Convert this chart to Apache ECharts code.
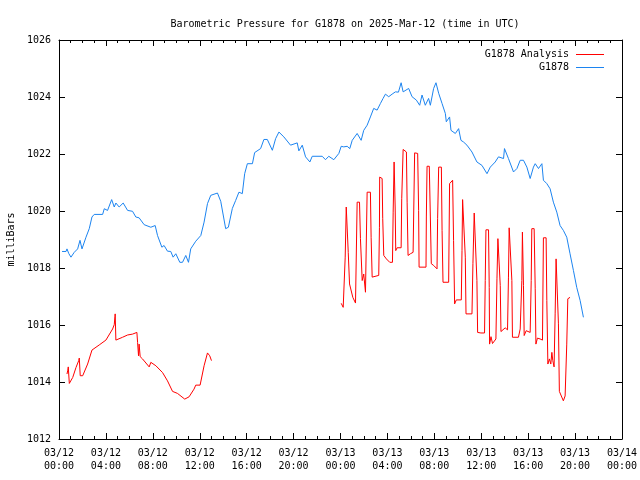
<!DOCTYPE html>
<html>
<head>
<meta charset="utf-8">
<script src="https://cdn.jsdelivr.net/npm/echarts@6/dist/echarts.min.js"></script>
<style>html,body{margin:0;padding:0;background:#fff;}#c{width:640px;height:480px;}</style>
</head>
<body>
<div id="c"></div>
<script>
// Hours since 2025-03-12 00:00 UTC, pressure in millibars
const titleText = 'Barometric Pressure for G1878 on 2025-Mar-12 (time in UTC)';
const seriesNames = ['G1878 Analysis', 'G1878'];
const yTicks = [1012, 1014, 1016, 1018, 1020, 1022, 1024, 1026];
const xTickHours = [0, 4, 8, 12, 16, 20, 24, 28, 32, 36, 40, 44, 48];

const stationReadings = [
[0.26,1018.58],[0.60,1018.58],[0.68,1018.67],[0.83,1018.51],[1.02,1018.38],[1.30,1018.55],[1.59,1018.67],[1.79,1018.97],[1.96,1018.67],[2.30,1019.08],[2.58,1019.38],[2.81,1019.79],[3.00,1019.88],[3.72,1019.88],[3.86,1020.08],[4.14,1020.02],[4.49,1020.40],[4.71,1020.14],[4.85,1020.28],[5.13,1020.14],[5.47,1020.28],[5.85,1020.02],[6.27,1019.99],[6.55,1019.79],[6.83,1019.76],[7.26,1019.52],[7.83,1019.43],[8.20,1019.49],[8.40,1019.14],[8.77,1018.73],[8.96,1018.79],[9.25,1018.59],[9.53,1018.58],[9.73,1018.38],[9.96,1018.50],[10.30,1018.20],[10.53,1018.20],[10.81,1018.44],[11.04,1018.20],[11.23,1018.67],[11.66,1018.94],[12.09,1019.14],[12.37,1019.61],[12.66,1020.26],[12.94,1020.55],[13.51,1020.63],[13.79,1020.34],[14.21,1019.38],[14.44,1019.43],[14.78,1020.09],[15.06,1020.37],[15.34,1020.66],[15.63,1020.61],[15.83,1021.31],[16.06,1021.66],[16.49,1021.66],[16.68,1022.05],[17.19,1022.19],[17.47,1022.51],[17.76,1022.51],[18.19,1022.13],[18.47,1022.54],[18.75,1022.77],[19.17,1022.60],[19.74,1022.31],[20.31,1022.39],[20.45,1022.11],[20.74,1022.31],[21.02,1021.90],[21.39,1021.72],[21.59,1021.92],[22.44,1021.92],[22.72,1021.80],[23.00,1021.92],[23.43,1021.80],[23.86,1022.02],[24.06,1022.27],[24.28,1022.25],[24.57,1022.27],[24.79,1022.19],[25.00,1022.48],[25.42,1022.72],[25.76,1022.48],[25.98,1022.83],[26.27,1023.01],[26.55,1023.30],[26.83,1023.60],[27.12,1023.54],[27.40,1023.77],[27.63,1023.95],[27.83,1024.10],[28.11,1024.01],[28.40,1024.10],[28.68,1024.18],[28.94,1024.17],[29.17,1024.50],[29.34,1024.18],[29.81,1024.30],[30.10,1024.01],[30.47,1023.89],[30.75,1023.71],[30.95,1024.07],[31.23,1023.71],[31.51,1023.95],[31.66,1023.71],[31.94,1024.30],[32.14,1024.50],[32.37,1024.13],[32.66,1023.77],[32.94,1023.42],[33.02,1023.13],[33.30,1023.30],[33.42,1022.83],[33.79,1022.72],[34.07,1022.89],[34.27,1022.48],[34.49,1022.42],[34.78,1022.31],[35.21,1022.07],[35.63,1021.72],[36.06,1021.60],[36.49,1021.31],[36.77,1021.54],[37.19,1021.72],[37.47,1021.90],[37.90,1021.84],[37.98,1022.19],[38.32,1021.84],[38.75,1021.37],[39.04,1021.49],[39.32,1021.78],[39.60,1021.78],[39.89,1021.54],[40.17,1021.14],[40.45,1021.54],[40.60,1021.66],[40.88,1021.49],[41.17,1021.66],[41.30,1021.08],[41.59,1020.96],[41.87,1020.78],[42.15,1020.31],[42.44,1019.96],[42.72,1019.49],[43.00,1019.32],[43.29,1019.08],[43.57,1018.50],[43.86,1017.91],[44.14,1017.32],[44.43,1016.86],[44.71,1016.27]
];

const analysisReadings = [
[0.68,1014.28],[0.74,1014.39],[0.79,1014.53],[0.88,1013.95],[1.17,1014.16],[1.45,1014.51],[1.68,1014.75],[1.73,1014.84],[1.81,1014.22],[2.02,1014.22],[2.44,1014.63],[2.81,1015.12],[3.43,1015.30],[4.00,1015.47],[4.14,1015.48],[4.57,1015.86],[4.71,1016.01],[4.77,1016.29],[4.79,1016.39],[4.85,1015.47],[5.42,1015.57],[5.85,1015.65],[6.27,1015.68],[6.64,1015.74],[6.70,1015.39],[6.78,1014.92],[6.83,1015.33],[6.92,1014.89],[7.12,1014.81],[7.69,1014.53],[7.83,1014.69],[8.26,1014.57],[8.83,1014.33],[8.96,1014.28],[9.25,1014.04],[9.68,1013.67],[10.10,1013.60],[10.72,1013.40],[11.09,1013.48],[11.51,1013.75],[11.66,1013.89],[12.03,1013.89],[12.37,1014.57],[12.66,1015.02],[12.85,1014.92],[13.00,1014.75],
[18.5,null],
[24.06,1016.76],[24.20,1016.74],[24.23,1016.62],[24.37,1016.62],[24.40,1018.38],[24.49,1020.14],[24.62,1020.14],[24.66,1018.55],[24.77,1017.44],[24.94,1017.44],[25.05,1016.97],[25.28,1016.77],[25.42,1020.31],[25.62,1020.31],[25.70,1019.03],[25.85,1017.56],[25.98,1017.79],[26.13,1017.15],[26.27,1020.66],[26.55,1020.66],[26.61,1019.08],[26.70,1017.68],[27.26,1017.74],[27.32,1019.43],[27.34,1021.19],[27.55,1021.14],[27.60,1019.73],[27.69,1018.44],[27.91,1018.32],[28.03,1018.38],[28.20,1018.20],[28.43,1018.20],[28.49,1019.96],[28.57,1021.72],[28.66,1020.14],[28.71,1018.61],[28.83,1018.71],[29.17,1018.71],[29.22,1020.43],[29.34,1022.16],[29.62,1022.07],[29.68,1020.31],[29.76,1018.44],[29.96,1018.50],[30.19,1018.55],[30.32,1022.04],[30.58,1022.02],[30.66,1020.02],[30.70,1018.03],[31.29,1018.03],[31.32,1019.79],[31.38,1021.57],[31.57,1021.57],[31.66,1019.79],[31.74,1018.15],[31.94,1018.09],[32.23,1017.97],[32.28,1019.73],[32.37,1021.54],[32.60,1021.54],[32.66,1019.32],[32.74,1017.50],[33.22,1017.50],[33.30,1020.96],[33.56,1021.08],[33.64,1018.97],[33.73,1016.74],[33.87,1016.88],[34.30,1016.88],[34.36,1018.61],[34.41,1020.40],[34.58,1020.40],[34.64,1018.38],[34.70,1016.39],[35.21,1016.39],[35.29,1018.15],[35.40,1019.93],[35.57,1019.93],[35.63,1017.56],[35.69,1015.74],[35.86,1015.78],[35.97,1015.72],[36.28,1015.72],[36.34,1017.56],[36.40,1019.34],[36.62,1019.34],[36.68,1017.32],[36.71,1015.33],[36.83,1015.59],[36.96,1015.35],[37.13,1015.35],[37.25,1015.51],[37.34,1017.62],[37.42,1019.03],[37.56,1018.97],[37.62,1017.38],[37.68,1015.77],[37.85,1015.83],[38.04,1015.90],[38.24,1015.83],[38.32,1017.68],[38.38,1019.41],[38.55,1019.41],[38.61,1017.56],[38.66,1015.57],[39.17,1015.57],[39.32,1015.86],[39.46,1017.56],[39.51,1019.26],[39.60,1017.38],[39.66,1015.63],[39.83,1015.80],[40.17,1015.74],[40.26,1017.56],[40.31,1019.38],[40.51,1019.38],[40.60,1017.27],[40.66,1015.33],[40.79,1015.54],[41.02,1015.51],[41.22,1015.47],[41.30,1019.06],[41.53,1019.06],[41.59,1016.86],[41.68,1014.63],[41.81,1014.81],[41.93,1014.63],[42.02,1015.04],[42.10,1014.75],[42.21,1014.53],[42.30,1016.39],[42.38,1018.32],[42.53,1018.38],[42.58,1016.04],[42.66,1013.67],[42.81,1013.63],[43.00,1013.34],[43.15,1013.51],[43.23,1013.57],[43.29,1015.33],[43.38,1016.92],[43.57,1016.97]
];

const FONT = 'DejaVu Sans Mono';

function fmtX(h) {
  const day = 12 + Math.floor(h / 24);
  const hr = Math.round(h % 24);
  return '03/' + day + '\n' + (hr < 10 ? '0' + hr : hr) + ':00';
}

const chart = echarts.init(document.getElementById('c'), null, {renderer: 'canvas'});

const axisLineStyle = {color: '#000', width: 1};
function xAxisBase(pos, showLabel) {
  return {
    type: 'value', position: pos, min: xTickHours[0], max: xTickHours[xTickHours.length - 1], interval: 4,
    axisLine: {show: true, onZero: false, lineStyle: axisLineStyle},
    axisTick: {show: true, inside: true, length: 6, lineStyle: axisLineStyle},
    minorTick: {show: true, splitNumber: 4, length: 3, lineStyle: axisLineStyle},
    splitLine: {show: false}, minorSplitLine: {show: false},
    axisLabel: {show: showLabel, formatter: fmtX, fontFamily: FONT, fontSize: 10, color: '#000', lineHeight: 13, margin: 8, showMinLabel: true, showMaxLabel: true, hideOverlap: false}
  };
}
function yAxisBase(pos, showLabel) {
  return {
    type: 'value', position: pos, min: yTicks[0], max: yTicks[yTicks.length - 1], interval: 2,
    axisLine: {show: true, onZero: false, lineStyle: axisLineStyle},
    axisTick: {show: true, inside: true, length: 6, lineStyle: axisLineStyle},
    splitLine: {show: false},
    axisLabel: {show: showLabel, formatter: function (v) { return String(v); }, fontFamily: FONT, fontSize: 10, color: '#000', margin: 8},
    name: showLabel ? 'milliBars' : '', nameLocation: 'middle', nameRotate: 90, nameGap: 43,
    nameTextStyle: {fontFamily: FONT, fontSize: 10, color: '#000'}
  };
}

chart.setOption({
  animation: false,
  backgroundColor: '#fff',
  title: {
    text: titleText, left: 340, top: 14, textAlign: 'center',
    textStyle: {fontFamily: FONT, fontSize: 10, fontWeight: 'normal', color: '#000'}
  },
  legend: {
    data: seriesNames, orient: 'vertical', right: 31, top: 43, align: 'right',
    itemWidth: 28, itemHeight: 1, itemGap: 0, icon: 'rect',
    textStyle: {fontFamily: FONT, fontSize: 10, color: '#000', lineHeight: 13, padding: [0, 2, 0, 0]}
  },
  grid: {left: 59, right: 18, top: 40, bottom: 41, containLabel: false, outerBoundsMode: 'none'},
  xAxis: [xAxisBase('bottom', true), xAxisBase('top', false)],
  yAxis: [yAxisBase('left', true), yAxisBase('right', false)],
  series: [
    {
      name: seriesNames[0], type: 'line', data: analysisReadings, showSymbol: false, symbol: 'none',
      connectNulls: false, lineStyle: {color: '#ff0000', width: 1}, itemStyle: {color: '#ff0000'}, z: 3
    },
    {
      name: seriesNames[1], type: 'line', data: stationReadings, showSymbol: false, symbol: 'none',
      lineStyle: {color: '#1c84f0', width: 1}, itemStyle: {color: '#1c84f0'}, z: 2
    }
  ]
});
</script>
</body>
</html>
